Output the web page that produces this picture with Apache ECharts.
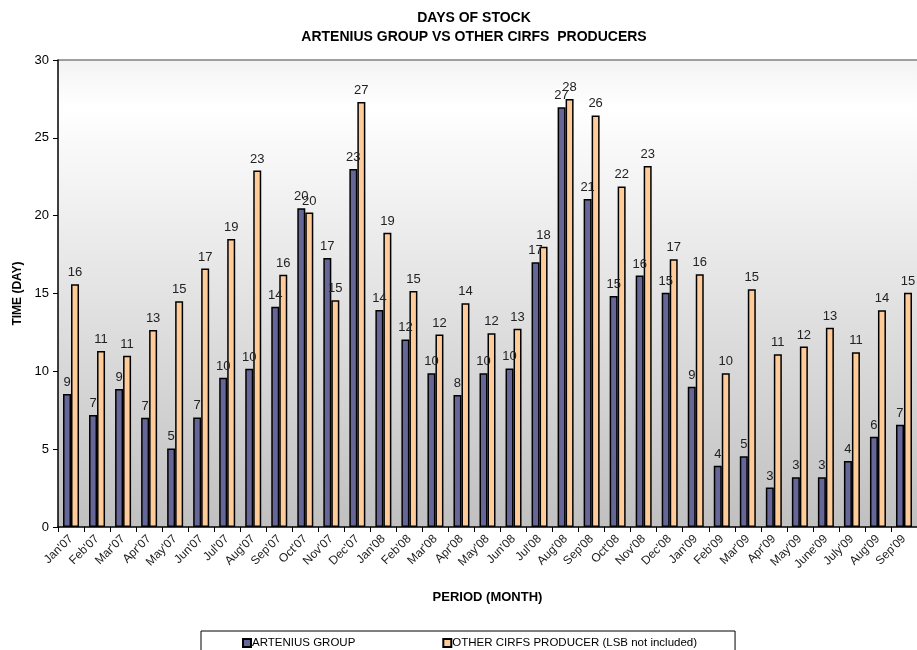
<!DOCTYPE html>
<html>
<head>
<meta charset="utf-8">
<script src="https://cdn.jsdelivr.net/npm/echarts@6/dist/echarts.min.js"></script>
<style>
  html, body { margin: 0; padding: 0; background: #fff; }
  #chart { width: 917px; height: 650px; }
</style>
</head>
<body>
<div id="chart"></div>
<script>
const months = ["Jan'07", "Feb'07", "Mar'07", "Apr'07", "May'07", "Jun'07", "Jul'07", "Aug'07", "Sep'07", "Oct'07", "Nov'07", "Dec'07",
  "Jan'08", "Feb'08", "Mar'08", "Apr'08", "May'08", "Jun'08", "Jul'08", "Aug'08", "Sep'08", "Oct'08", "Nov'08", "Dec'08",
  "Jan'09", "Feb'09", "Mar'09", "Apr'09", "May'09", "June'09", "July'09", "Aug'09", "Sep'09"];

const artenius = [8.54, 7.2, 8.86, 7.02, 5.05, 7.04, 9.59, 10.17, 14.15, 20.47, 17.28, 23.0,
  13.94, 12.05, 9.87, 8.48, 9.87, 10.19, 17.0, 26.97, 21.07, 14.84, 16.16, 15.05,
  9.01, 3.94, 4.54, 2.53, 3.19, 3.19, 4.24, 5.8, 6.57];

const others = [15.6, 11.3, 11.0, 12.65, 14.5, 16.6, 18.5, 22.9, 16.2, 20.2, 14.56, 27.3,
  18.9, 15.16, 12.37, 14.37, 12.44, 12.74, 18.0, 27.5, 26.44, 21.88, 23.19, 17.2,
  16.23, 9.87, 15.27, 11.09, 11.6, 12.8, 11.22, 13.92, 15.05];

const yTicks = [0, 5, 10, 15, 20, 25, 30];

const font = "'Liberation Sans', Arial, sans-serif";

var chart = echarts.init(document.getElementById("chart"));

function barLabel() {
  return {
    show: true,
    position: "top",
    distance: 5,
    fontFamily: font,
    fontSize: 13,
    color: "#222",
    formatter: function (p) {
      return Math.round(p.value);
    },
  };
}

var option = {
  animation: false,
  backgroundColor: "#fff",
  graphic: [
    {
      type: "text",
      x: 474,
      y: 9,
      style: {
        text: "DAYS OF STOCK\nARTENIUS GROUP VS OTHER CIRFS  PRODUCERS",
        fontFamily: font,
        fontSize: 14,
        fontWeight: "bold",
        lineHeight: 19,
        align: "center",
        verticalAlign: "top",
        fill: "#000",
      },
    },
  ],
  grid: {
    left: 58,
    right: -9,
    top: 60,
    bottom: 123,
    show: true,
    borderWidth: 0,
    backgroundColor: {
      type: "linear",
      x: 0,
      y: 0,
      x2: 0,
      y2: 1,
      colorStops: [
        { offset: 0, color: "#f3f3f3" },
        { offset: 0.1, color: "#ffffff" },
        { offset: 1, color: "#c0c0c0" },
      ],
    },
  },
  legend: {
    left: 201,
    top: 631,
    orient: "horizontal",
    borderColor: "#000",
    borderWidth: 1,
    padding: [6, 38, 20, 41],
    itemWidth: 8,
    itemHeight: 8,
    itemGap: 87,
    icon: "rect",
    textStyle: { fontFamily: font, fontSize: 11.5, color: "#000", padding: [0, 0, 0, -4] },
    data: ["ARTENIUS GROUP", "OTHER CIRFS PRODUCER (LSB not included)"],
  },
  xAxis: {
    type: "category",
    data: months,
    name: "PERIOD (MONTH)",
    nameLocation: "middle",
    nameGap: 64,
    nameTextStyle: { fontFamily: font, fontSize: 13, fontWeight: "bold", color: "#000", verticalAlign: "top" },
    axisLine: { lineStyle: { color: "#000", width: 1.5 } },
    axisTick: { show: true, length: 5, lineStyle: { color: "#000" } },
    axisLabel: {
      interval: 0,
      rotate: 45,
      margin: 10,
      fontFamily: font,
      fontSize: 12,
      color: "#222",
    },
    splitLine: { show: false },
  },
  yAxis: {
    type: "value",
    min: yTicks[0],
    max: yTicks[yTicks.length - 1],
    interval: 5,
    name: "TIME (DAY)",
    nameLocation: "middle",
    nameGap: 33,
    nameTextStyle: { fontFamily: font, fontSize: 12, fontWeight: "bold", color: "#000" },
    axisLine: { show: true, lineStyle: { color: "#000", width: 1.5 } },
    axisTick: { show: true, length: 5, lineStyle: { color: "#000" } },
    axisLabel: { fontFamily: font, fontSize: 13, color: "#000", margin: 9 },
    splitLine: {
      show: true,
      lineStyle: {
        width: 1.5,
        color: ["rgba(0,0,0,0)", "rgba(0,0,0,0)", "rgba(0,0,0,0)", "rgba(0,0,0,0)", "rgba(0,0,0,0)", "rgba(0,0,0,0)", "#808080"],
      },
    },
  },
  series: [
    {
      name: "ARTENIUS GROUP",
      type: "bar",
      data: artenius,
      barWidth: 8,
      barGap: "0%",
      itemStyle: { color: "#666699", borderColor: "#000", borderWidth: 1.5 },
      label: barLabel(),
    },
    {
      name: "OTHER CIRFS PRODUCER (LSB not included)",
      type: "bar",
      data: others,
      barWidth: 8,
      barGap: "0%",
      itemStyle: { color: "#ffcc99", borderColor: "#000", borderWidth: 1.5 },
      label: barLabel(),
    },
  ],
};
chart.setOption(option);
</script>
</body>
</html>
